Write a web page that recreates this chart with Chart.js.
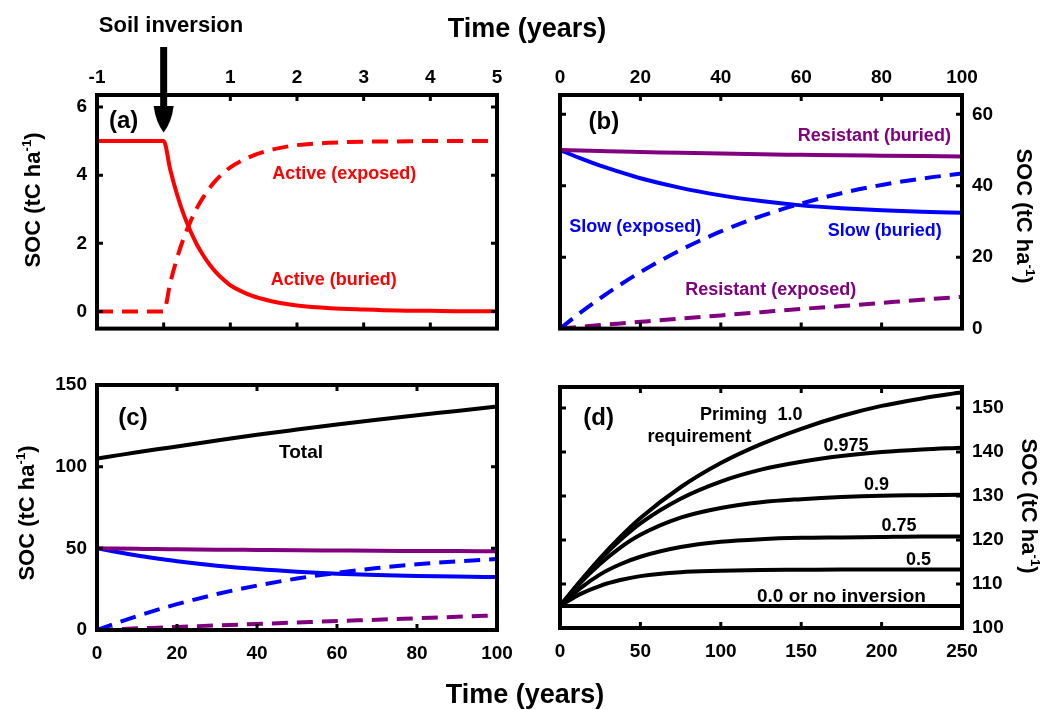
<!DOCTYPE html>
<html><head><meta charset="utf-8">
<script src="https://cdn.jsdelivr.net/npm/chart.js@4.4.0/dist/chart.umd.min.js"></script>
<style>
html,body{margin:0;padding:0;background:#fff;}
body{width:1059px;height:710px;overflow:hidden;position:relative;font-family:"Liberation Sans",Arial,sans-serif;}
canvas{position:absolute;}
.t{position:absolute;white-space:nowrap;font-weight:bold;color:#000;transform:translate(-50%,-50%);line-height:1;}
.rl{transform:translate(-50%,-50%) rotate(-90deg);}
.rr{transform:translate(-50%,-50%) rotate(90deg);}
.sup{font-size:0.6em;vertical-align:0.7em;}
</style></head>
<body>
<canvas id="ca" width="530" height="350" style="left:0;top:0"></canvas>
<canvas id="cb" width="529" height="350" style="left:530px;top:0"></canvas>
<canvas id="cc" width="530" height="360" style="left:0;top:350px"></canvas>
<canvas id="cd" width="529" height="360" style="left:530px;top:350px"></canvas>

<div class="t" style="left:171px;top:25px;font-size:22px">Soil inversion</div>
<div class="t" style="left:527px;top:28px;font-size:27px">Time (years)</div>
<div class="t" style="left:525px;top:694px;font-size:27px">Time (years)</div>
<div class="t rl" style="left:32px;top:200px;font-size:22px">SOC (tC ha<span class="sup">-1</span>)</div>
<div class="t rr" style="left:1025px;top:216px;font-size:22px">SOC (tC ha<span class="sup">-1</span>)</div>
<div class="t rl" style="left:26px;top:513px;font-size:22px">SOC (tC ha<span class="sup">-1</span>)</div>
<div class="t rr" style="left:1030px;top:506px;font-size:22px">SOC (tC ha<span class="sup">-1</span>)</div>

<script>
// ---------- Panel (a): first 5 years (active pool) ----------
const aTime = [-1, -0.5, 0, 0.1, 0.2, 0.3, 0.4, 0.5, 0.6, 0.7, 0.8, 0.9, 1.0, 1.25, 1.5, 1.75, 2.0, 2.5, 3.0, 3.5, 4.0, 4.5, 5.0];
const aActiveBuried  = [5, 5, 5, 4.15, 3.44, 2.85, 2.37, 1.96, 1.63, 1.35, 1.12, 0.93, 0.77, 0.52, 0.36, 0.25, 0.18, 0.10, 0.06, 0.03, 0.02, 0.01, 0.01];
const aActiveExposed = [0, 0, 0, 0.85, 1.56, 2.15, 2.63, 3.04, 3.37, 3.65, 3.88, 4.07, 4.23, 4.50, 4.68, 4.80, 4.88, 4.95, 4.98, 4.99, 5.0, 5.0, 5.0];
const aXTicks = [-1, 0, 1, 2, 3, 4, 5];
const aYTicks = [0, 2, 4, 6];

// ---------- Panels (b) and (c): 100 years ----------
const bTime = [0, 5, 10, 15, 20, 30, 40, 50, 60, 70, 80, 90, 100];
const resistantBuried  = [50, 49.85, 49.7, 49.55, 49.45, 49.2, 49.0, 48.8, 48.65, 48.5, 48.4, 48.3, 48.2];
const slowBuried       = [50, 47.7, 45.6, 43.8, 42.1, 39.4, 37.3, 35.7, 34.5, 33.7, 33.1, 32.7, 32.4];
const slowExposed      = [0, 4.4, 8.5, 12.3, 15.8, 22.0, 27.2, 31.5, 35.0, 37.9, 40.2, 42.0, 43.4];
const resistantExposed = [0, 0.5, 1.0, 1.45, 1.9, 2.8, 3.7, 4.6, 5.5, 6.3, 7.2, 8.1, 8.9];
const totalSOC         = [105, 106.9, 108.8, 110.6, 112.4, 116.0, 119.5, 122.7, 125.8, 128.7, 131.5, 134.1, 136.8];
const bXTicks = [0, 20, 40, 60, 80, 100];
const bYTicks = [0, 20, 40, 60];
const cYTicks = [0, 50, 100, 150];

// ---------- Panel (d): priming requirement, 250 years ----------
const dTime    = [0, 12.5, 25, 37.5, 50, 75, 100, 125, 150, 175, 200, 225, 250];
const prime100 = [105, 110.6, 115.9, 120.7, 125.0, 132.0, 137.5, 141.8, 145.3, 148.2, 150.5, 152.2, 153.6];
const prime975 = [105, 110.5, 115.6, 120.0, 123.8, 129.4, 133.3, 136.0, 137.8, 139.1, 140.0, 140.6, 141.0];
const prime090 = [105, 110.2, 114.6, 118.3, 121.2, 125.1, 127.3, 128.6, 129.3, 129.8, 130.1, 130.2, 130.3];
const prime075 = [105, 109.0, 112.2, 114.5, 116.2, 118.4, 119.6, 120.2, 120.5, 120.6, 120.7, 120.8, 120.8];
const prime050 = [105, 107.7, 109.6, 110.9, 111.8, 112.7, 113.0, 113.2, 113.25, 113.3, 113.3, 113.3, 113.3];
const prime000 = [105, 105, 105, 105, 105, 105, 105, 105, 105, 105, 105, 105, 105];
const dXTicks = [0, 50, 100, 150, 200, 250];
const dYTicks = [100, 110, 120, 130, 140, 150];

const RED = '#ff0000', BLUE = '#0000ff', PURPLE = '#800080', BLACK = '#000000';
const FONT = '"Liberation Sans", Arial, sans-serif';

function pts(xs, ys){ return xs.map((x,i)=>({x:x, y:ys[i]})); }
function line(xs, ys, color, dashed){
  return {data: pts(xs, ys), borderColor: color, borderWidth: 4, pointRadius: 0,
          borderDash: dashed ? [16, 9] : [], cubicInterpolationMode: 'monotone', fill: false};
}

const framePlugin = {
  id: 'frame',
  afterDatasetsDraw(chart){
    const {ctx, chartArea: a} = chart;
    const xs = chart.scales.x, ys = chart.scales.y;
    ctx.save();
    ctx.strokeStyle = '#000';
    ctx.lineWidth = 3;
    ctx.setLineDash([]);
    xs.ticks.forEach(t => {
      const p = xs.getPixelForValue(t.value);
      if (p <= a.left + 3 || p >= a.right - 3) return;
      ctx.beginPath();
      ctx.moveTo(p, a.top); ctx.lineTo(p, a.top + 6);
      ctx.moveTo(p, a.bottom); ctx.lineTo(p, a.bottom - 6);
      ctx.stroke();
    });
    ys.ticks.forEach(t => {
      const p = ys.getPixelForValue(t.value);
      if (p <= a.top + 3 || p >= a.bottom - 3) return;
      ctx.beginPath();
      ctx.moveTo(a.left, p); ctx.lineTo(a.left + 6, p);
      ctx.moveTo(a.right, p); ctx.lineTo(a.right - 6, p);
      ctx.stroke();
    });
    ctx.lineWidth = 4;
    ctx.strokeRect(a.left, a.top, a.right - a.left, a.bottom - a.top);
    ctx.restore();
  },
  afterDraw(chart){
    const notes = chart.options.plugins.notes || [];
    const {ctx} = chart;
    const xs = chart.scales.x, ys = chart.scales.y;
    ctx.save();
    ctx.textAlign = 'center';
    ctx.textBaseline = 'middle';
    notes.forEach(n => {
      ctx.fillStyle = n.color || '#000';
      ctx.font = 'bold ' + (n.size || 18) + 'px ' + FONT;
      ctx.fillText(n.text, xs.getPixelForValue(n.x), ys.getPixelForValue(n.y));
    });
    const arrow = chart.options.plugins.arrowAt;
    if (arrow !== undefined) {
      const x = xs.getPixelForValue(arrow.x);
      const tip = ys.getPixelForValue(arrow.tipY);
      ctx.fillStyle = '#000';
      ctx.fillRect(x - 3.5, 47, 7, 64);
      ctx.beginPath();
      ctx.moveTo(x - 10, 106);
      ctx.lineTo(x + 10, 106);
      ctx.quadraticCurveTo(x + 8, 122, x, tip);
      ctx.quadraticCurveTo(x - 8, 122, x - 10, 106);
      ctx.closePath();
      ctx.fill();
    }
    ctx.restore();
  }
};

function axis(opts){
  return {
    type: 'linear', position: opts.position, min: opts.min, max: opts.max,
    grid: {display: false, drawTicks: false},
    border: {display: false},
    afterBuildTicks: s => { s.ticks = opts.ticks.map(v => ({value: v})); },
    afterFit: s => { if (opts.w !== undefined) s.width = opts.w; if (opts.h !== undefined) s.height = opts.h; },
    ticks: {
      color: '#000', padding: opts.pad, autoSkip: false, maxRotation: 0,
      font: {family: FONT, size: 19, weight: 'bold'},
      callback: opts.cb || (v => v)
    }
  };
}

function make(id, datasets, xOpt, yOpt, padding, notes, extra){
  const plugins = {legend: {display: false}, tooltip: {enabled: false}, notes: notes};
  if (extra) Object.assign(plugins, extra);
  return new Chart(document.getElementById(id), {
    type: 'line',
    data: {datasets: datasets},
    options: {
      responsive: false, animation: false, devicePixelRatio: 1,
      layout: {padding: padding},
      scales: {x: axis(xOpt), y: axis(yOpt)},
      plugins: plugins
    },
    plugins: [framePlugin]
  });
}

// Panel (a)
make('ca',
  [line(aTime, aActiveBuried, RED, false), line(aTime, aActiveExposed, RED, true)],
  {position: 'top', min: -1, max: 5, ticks: aXTicks, h: 95, pad: 6, cb: v => (v === 0 ? '' : v)},
  {position: 'left', min: -0.5, max: 6.35, ticks: aYTicks, w: 97, pad: 10},
  {left: 0, top: 0, right: 33, bottom: 12},
  [
    {x: -0.6, y: 5.58, text: '(a)', size: 24},
    {x: 2.71, y: 4.03, text: 'Active (exposed)', color: RED},
    {x: 2.55, y: 0.93, text: 'Active (buried)', color: RED}
  ],
  {arrowAt: {x: 0, tipY: 5.25}}
);

// Panel (b)
make('cb',
  [line(bTime, resistantBuried, PURPLE, false), line(bTime, slowBuried, BLUE, false),
   line(bTime, slowExposed, BLUE, true), line(bTime, resistantExposed, PURPLE, true)],
  {position: 'top', min: 0, max: 100, ticks: bXTicks, h: 95, pad: 6},
  {position: 'right', min: 0, max: 65.4, ticks: bYTicks, w: 97, pad: 10},
  {left: 30, top: 0, right: 0, bottom: 12},
  [
    {x: 10.9, y: 57.8, text: '(b)', size: 24},
    {x: 78.2, y: 53.8, text: 'Resistant (buried)', color: PURPLE},
    {x: 18.7, y: 28.5, text: 'Slow (exposed)', color: BLUE},
    {x: 80.8, y: 27.2, text: 'Slow (buried)', color: BLUE},
    {x: 52.4, y: 10.75, text: 'Resistant (exposed)', color: PURPLE}
  ]
);

// Panel (c)
make('cc',
  [line(bTime, totalSOC, BLACK, false),
   line(bTime, resistantBuried, PURPLE, false), line(bTime, slowBuried, BLUE, false),
   line(bTime, slowExposed, BLUE, true), line(bTime, resistantExposed, PURPLE, true)],
  {position: 'bottom', min: 0, max: 100, ticks: bXTicks, h: 80, pad: 12},
  {position: 'left', min: 0, max: 150, ticks: cYTicks, w: 97, pad: 10},
  {left: 0, top: 35, right: 33, bottom: 0},
  [
    {x: 9, y: 129.8, text: '(c)', size: 24},
    {x: 51, y: 108.4, text: 'Total', color: BLACK, size: 19}
  ]
);

// Panel (d)
make('cd',
  [line(dTime, prime100, BLACK, false), line(dTime, prime975, BLACK, false),
   line(dTime, prime090, BLACK, false), line(dTime, prime075, BLACK, false),
   line(dTime, prime050, BLACK, false), line(dTime, prime000, BLACK, false)],
  {position: 'bottom', min: 0, max: 250, ticks: dXTicks, h: 82, pad: 12},
  {position: 'right', min: 100, max: 154.8, ticks: dYTicks, w: 97, pad: 10},
  {left: 30, top: 37, right: 0, bottom: 0},
  [
    {x: 24, y: 147.7, text: '(d)', size: 24},
    {x: 107.9, y: 148.4, text: 'Priming'},
    {x: 143, y: 148.4, text: '1.0'},
    {x: 86.8, y: 143.4, text: 'requirement'},
    {x: 177.9, y: 141.4, text: '0.975'},
    {x: 196.8, y: 132.5, text: '0.9'},
    {x: 210.8, y: 123.2, text: '0.75'},
    {x: 223, y: 115.5, text: '0.5'},
    {x: 175, y: 107, text: '0.0 or no inversion', size: 19}
  ]
);
</script>
</body></html>
